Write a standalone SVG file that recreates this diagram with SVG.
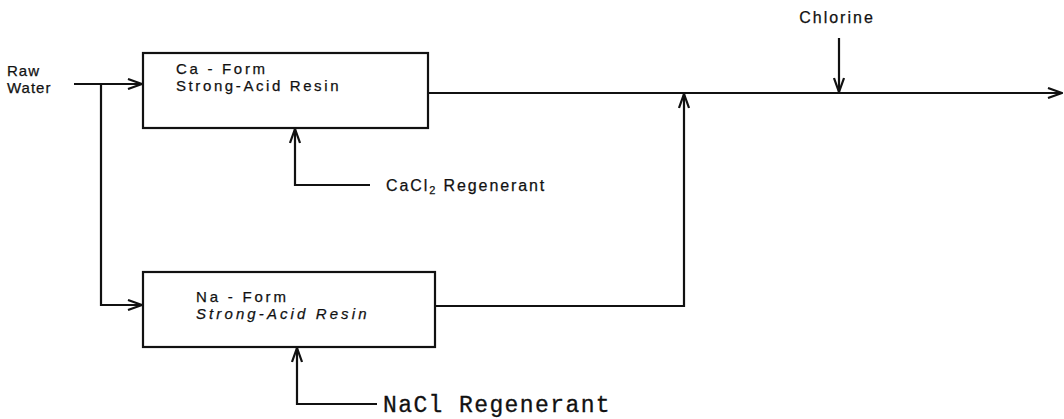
<svg xmlns="http://www.w3.org/2000/svg" width="1064" height="419" viewBox="0 0 1064 419">
<style>
.box{fill:#fff;stroke:#111;stroke-width:2.2}
.ln{fill:none;stroke:#111;stroke-width:2.2}
.t{font-family:"Liberation Sans",Arial,sans-serif;fill:#111;stroke:#111;stroke-width:0.25}
.m{font-family:"Liberation Mono","Courier New",monospace;fill:#111;stroke:#111;stroke-width:0.3}
</style>
<defs>
<marker id="arr" viewBox="0 0 16 12" refX="15" refY="6" markerWidth="16" markerHeight="12" markerUnits="userSpaceOnUse" orient="auto">
<path d="M1,1 L15,6 L1,11" fill="none" stroke="#111" stroke-width="2.2"/>
</marker>
</defs>
<rect width="1064" height="419" fill="#fff"/>
<g id="connectors">
<path class="ln" d="M74,84 H142" marker-end="url(#arr)"/>
<path class="ln" d="M101,84 V305 H142" marker-end="url(#arr)"/>
<path class="ln" d="M428,93 H1062" marker-end="url(#arr)"/>
<path class="ln" d="M435,306 H684 V94" marker-end="url(#arr)"/>
<path class="ln" d="M839,38 V92" marker-end="url(#arr)"/>
<path class="ln" d="M370,185 H295 V129" marker-end="url(#arr)"/>
<path class="ln" d="M377,404 H297 V348" marker-end="url(#arr)"/>
</g>
<g id="raw-water">
<text class="t" x="7" y="76" font-size="15" letter-spacing="1">Raw</text>
<text class="t" x="7" y="93" font-size="15" letter-spacing="1">Water</text>
</g>
<g id="ca-form">
<rect class="box" x="143" y="53" width="285" height="75"/>
<text class="t" x="176" y="74" font-size="15" letter-spacing="2.7">Ca - Form</text>
<text class="t" x="176" y="91" font-size="15" letter-spacing="2.6">Strong-Acid Resin</text>
</g>
<g id="na-form">
<rect class="box" x="143" y="272" width="292" height="75"/>
<text class="t" x="196" y="302" font-size="15" letter-spacing="2.8">Na - Form</text>
<text class="t" x="196" y="319" font-size="15" letter-spacing="3.1" font-style="italic">Strong-Acid Resin</text>
</g>
<g id="cacl2">
<text class="t" x="386" y="191" font-size="16" letter-spacing="1.9">CaCl<tspan font-size="11" dy="3">2</tspan><tspan dy="-3"> Regenerant</tspan></text>
</g>
<g id="nacl">
<text class="m" x="383" y="412" font-size="23" letter-spacing="1.4">NaCl Regenerant</text>
</g>
<g id="chlorine">
<text class="t" x="837" y="23" font-size="16" text-anchor="middle" letter-spacing="2">Chlorine</text>
</g>
</svg>
